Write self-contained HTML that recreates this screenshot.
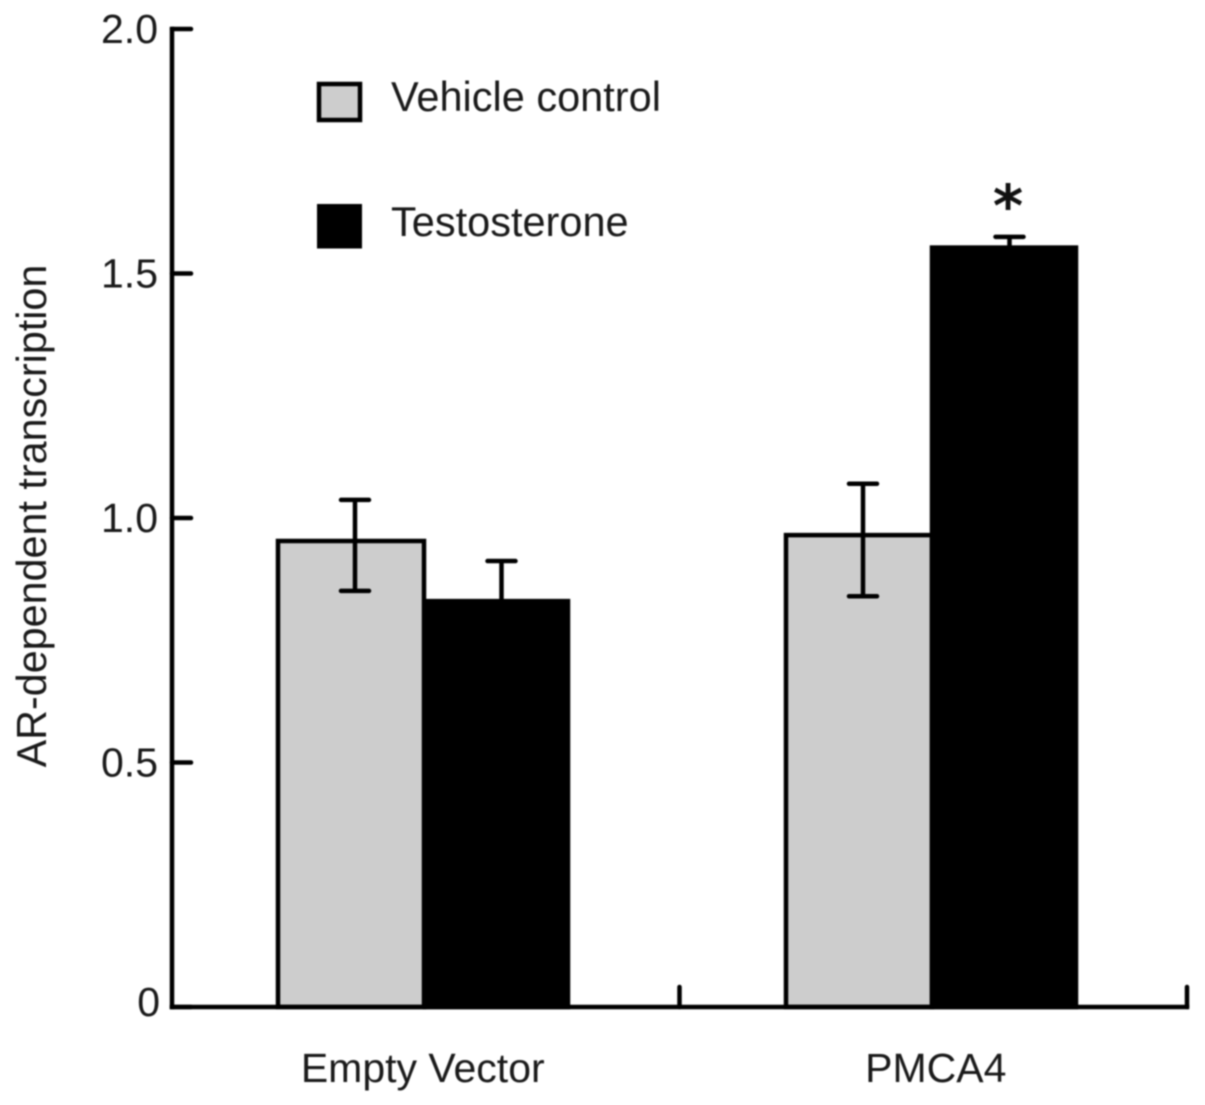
<!DOCTYPE html>
<html lang="en">
<head>
<meta charset="utf-8">
<title>AR-dependent transcription</title>
<style>
html,body{margin:0;padding:0;background:#fff;width:1205px;height:1105px;overflow:hidden}
svg{display:block;filter:blur(0.7px)}
text{font-family:"Liberation Sans",Arial,sans-serif;fill:#1a1a1a}
</style>
</head>
<body>
<svg id="chart" xmlns="http://www.w3.org/2000/svg" width="1205" height="1105" viewBox="0 0 1205 1105">
  <text transform="translate(46,516) rotate(-90)" text-anchor="middle" font-size="41.3">AR-dependent transcription</text>
  <g>
    <rect x="319" y="84" width="41" height="36" fill="#cdcdcd" stroke="#000" stroke-width="4.5"/>
    <text x="391" y="111" font-size="41.5">Vehicle control</text>
    <rect x="317" y="204" width="45" height="44.5" fill="#000"/>
    <text x="391" y="236" font-size="41.5">Testosterone</text>
  </g>
  <g id="marks"></g>
</svg>
<script>
const categories = ["Empty Vector", "PMCA4"];
const seriesNames = ["Vehicle control", "Testosterone"];
const vehicleValues = [0.953, 0.965];
const testosteroneValues = [0.83, 1.553];
const vehicleErrHigh = [1.037, 1.07];
const vehicleErrLow = [0.851, 0.84];
const testosteroneErrHigh = [0.912, 1.575];
const testosteroneErrLow = [0.83, 1.553];
const yTicks = [0, 0.5, 1, 1.5, 2];
const yTickLabels = ["0", "0.5", "1.0", "1.5", "2.0"];
const significant = [[false, false], [false, true]];

const NS = "http://www.w3.org/2000/svg";
const marks = document.getElementById("marks");
const plotLeft = 172, plotRight = 1187, plotTop = 29, plotBottom = 1007, yMax = 2;
const bandWidth = (plotRight - plotLeft) / categories.length;
const strokeW = 4.5;

function yScale(v) { return plotBottom - (v / yMax) * (plotBottom - plotTop); }
function bandStart(i) { return plotLeft + i * bandWidth; }
function barLeft(i, s) { return bandStart(i) + 106 + i * 0.5 + s * (147 - i); }
function barWidth(i, s) { return s === 0 ? 146 : 143 + i; }
function errCenter(i, s) { return s === 0 ? barLeft(i, s) + 77 : barLeft(i, s) + 76.5 + i; }

function add(tag, attrs, parent) {
  const el = document.createElementNS(NS, tag);
  for (const k in attrs) el.setAttribute(k, attrs[k]);
  (parent || marks).appendChild(el);
  return el;
}

const seriesFill = ["#cdcdcd", "#000"];
const seriesValues = [vehicleValues, testosteroneValues];
const seriesHigh = [vehicleErrHigh, testosteroneErrHigh];
const seriesLow = [vehicleErrLow, testosteroneErrLow];

// Bars
seriesNames.forEach(function (name, s) {
  categories.forEach(function (cat, i) {
    const y = yScale(seriesValues[s][i]);
    const bar = add("rect", {
      x: barLeft(i, s), y: y, width: barWidth(i, s), height: plotBottom - y,
      fill: seriesFill[s], stroke: "#000", "stroke-width": strokeW
    });
    
    
  });
});

// Error bars
seriesNames.forEach(function (name, s) {
  categories.forEach(function (cat, i) {
    const cx = errCenter(i, s);
    const hi = yScale(seriesHigh[s][i]), lo = yScale(seriesLow[s][i]);
    const g = add("path", {
      d: "M" + (cx - 14) + " " + hi + "H" + (cx + 14) + "M" + cx + " " + hi + "V" + lo +
         (s === 0 ? "M" + (cx - 14) + " " + lo + "H" + (cx + 14) : ""),
      fill: "none", stroke: "#000", "stroke-width": strokeW, "stroke-linecap": "round"
    });
    
    
    if (significant[i][s]) {
      const star = add("text", { x: cx - 1.5, y: hi - 11, "text-anchor": "middle", "font-size": 58, style: 'fill:#111;font-weight:bold;font-family:"DejaVu Sans",sans-serif' });
      
      
      star.textContent = "*";
    }
  });
});

// Y axis
const yAxis = add("path", {
  d: "M" + plotLeft + " " + plotTop + "V" + plotBottom,
  fill: "none", stroke: "#000", "stroke-width": strokeW, "stroke-linecap": "square"
});



yTicks.forEach(function (t, i) {
  const y = yScale(t);
  const tick = add("line", { x1: plotLeft, x2: plotLeft + 19, y1: y, y2: y, stroke: "#000", "stroke-width": strokeW, "stroke-linecap": "round" });
  
  
  const label = add("text", { x: t === 0 ? 160 : 158, y: t === 0 ? y + 9 : y + 14, "text-anchor": "end", "font-size": 41 });
  
  
  label.textContent = yTickLabels[i];
});

// X axis
const xAxis = add("path", {
  d: "M" + plotLeft + " " + plotBottom + "H" + plotRight,
  fill: "none", stroke: "#000", "stroke-width": strokeW, "stroke-linecap": "square"
});



for (let i = 1; i <= categories.length; i++) {
  const x = bandStart(i);
  const tick = add("line", { x1: x, x2: x, y1: plotBottom, y2: plotBottom - 20, stroke: "#000", "stroke-width": strokeW, "stroke-linecap": "round" });
  
  
}

categories.forEach(function (cat, i) {
  const label = add("text", {
    x: bandStart(i) + bandWidth / 2 - 3 + i * 5.5, y: 1082, "text-anchor": "middle", "font-size": 41
  });
  
  
  label.textContent = cat;
});
</script>
</body>
</html>
